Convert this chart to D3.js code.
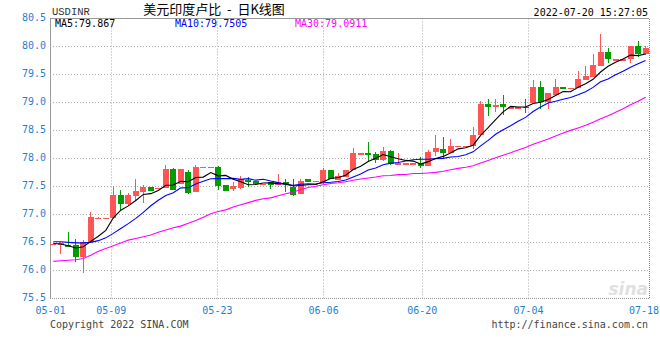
<!DOCTYPE html>
<html><head><meta charset="utf-8">
<script src="https://cdn.jsdelivr.net/npm/d3@7"></script>
<style>body{margin:0;background:#fff}svg{display:block}</style>
</head><body><svg id="c" width="660" height="360"></svg>
<script>
const dates = ["05-01","05-02","05-03","05-04","05-05","05-06","05-07","05-08","05-09","05-10",
"05-11","05-12","05-13","05-14","05-15","05-16","05-17","05-18","05-19","05-20",
"05-21","05-22","05-23","05-24","05-25","05-26","05-27","05-28","05-29","05-30",
"05-31","06-01","06-02","06-03","06-04","06-05","06-06","06-07","06-08","06-09",
"06-10","06-12","06-13","06-14","06-15","06-16","06-17","06-18","06-19","06-20",
"06-21","06-22","06-23","06-24","06-25","06-26","06-27","06-28","06-29","06-30",
"07-01","07-02","07-03","07-04","07-05","07-06","07-07","07-08","07-09","07-10",
"07-11","07-12","07-13","07-14","07-15","07-16","07-17","07-18","07-19","07-20"];
const open = [76.47,76.47,76.45,76.45,76.23,76.50,76.94,76.94,76.93,77.35,
77.18,77.33,77.40,77.48,77.47,77.47,77.81,77.55,77.75,77.40,
77.85,77.85,77.85,77.52,77.45,77.47,77.61,77.60,77.55,77.58,
77.52,77.58,77.49,77.36,77.63,77.60,77.57,77.79,77.61,77.66,
77.79,78.09,78.09,78.08,77.97,78.13,77.91,77.91,77.91,77.92,
77.86,78.12,78.17,78.10,78.22,78.22,78.22,78.42,78.97,78.91,
78.97,78.91,78.91,78.92,78.99,79.27,79.00,79.13,79.27,79.26,
79.26,79.40,79.46,79.66,79.90,79.77,79.77,79.77,80.01,79.86];
const high = [76.47,76.50,76.69,76.56,76.55,77.05,76.96,76.94,77.51,77.44,
77.39,77.63,77.52,77.48,77.47,77.88,77.82,77.81,77.79,77.88,
77.85,77.85,77.86,77.52,77.58,77.69,77.66,77.60,77.55,77.58,
77.72,77.63,77.63,77.64,77.63,77.60,77.83,77.79,77.74,77.79,
78.19,78.09,78.30,78.12,78.21,78.15,78.09,77.91,77.91,78.03,
78.15,78.41,78.39,78.35,78.22,78.22,78.57,79.03,79.06,79.07,
79.13,78.91,78.91,79.06,79.40,79.39,79.16,79.42,79.27,79.26,
79.56,79.65,79.86,80.22,79.97,79.77,79.77,80.01,80.09,80.00];
const low = [76.47,76.29,76.42,76.15,75.96,76.49,76.92,76.94,76.92,77.08,
77.17,77.23,77.21,77.42,77.47,77.47,77.43,77.55,77.36,77.40,
77.85,77.85,77.43,77.42,77.42,77.46,77.49,77.54,77.55,77.45,
77.52,77.40,77.33,77.36,77.58,77.60,77.55,77.63,77.61,77.66,
77.79,78.09,77.94,77.91,77.96,77.88,77.91,77.91,77.91,77.82,
77.86,78.05,78.00,78.10,78.22,78.22,78.16,78.42,78.76,78.83,
78.77,78.91,78.91,78.81,78.99,78.88,78.88,79.13,79.27,79.26,
79.26,79.40,79.46,79.66,79.70,79.77,79.77,79.70,79.82,79.85];
const close = [76.47,76.48,76.42,76.23,76.50,76.96,76.94,76.94,77.35,77.18,
77.35,77.42,77.48,77.42,77.47,77.81,77.44,77.81,77.38,77.85,
77.85,77.85,77.51,77.42,77.51,77.63,77.57,77.54,77.55,77.52,
77.57,77.54,77.35,77.60,77.58,77.60,77.79,77.63,77.69,77.79,
78.10,78.09,78.06,77.97,78.13,77.90,77.91,77.91,77.91,77.86,
78.12,78.19,78.10,78.22,78.22,78.22,78.42,78.97,78.91,78.95,
78.91,78.91,78.91,78.91,79.27,79.01,79.16,79.27,79.26,79.26,
79.41,79.47,79.67,79.91,79.77,79.77,79.77,80.01,79.86,79.98];
const ma5 = [76.48,76.47,76.44,76.40,76.420,76.518,76.610,76.714,76.938,77.074,
77.152,77.248,77.356,77.370,77.428,77.520,77.524,77.590,77.582,77.658,
77.666,77.748,77.688,77.696,77.628,77.584,77.528,77.534,77.560,77.562,
77.550,77.544,77.506,77.516,77.528,77.534,77.584,77.640,77.658,77.700,
77.800,77.860,77.946,78.002,78.070,78.030,77.994,77.964,77.952,77.898,
77.942,77.998,78.036,78.098,78.170,78.190,78.236,78.410,78.548,78.694,
78.832,78.930,78.918,78.918,78.982,79.002,79.052,79.124,79.194,79.192,
79.272,79.334,79.414,79.544,79.646,79.718,79.778,79.846,79.836,79.867];
const ma10 = [76.51,76.51,76.50,76.49,76.49,76.50,76.53,76.58,76.66,76.747,
76.835,76.929,77.035,77.154,77.251,77.336,77.386,77.473,77.476,77.543,
77.593,77.636,77.639,77.639,77.643,77.625,77.638,77.611,77.628,77.595,
77.567,77.536,77.520,77.538,77.545,77.542,77.564,77.573,77.587,77.614,
77.667,77.722,77.793,77.830,77.885,77.915,77.927,77.955,77.977,77.984,
77.986,77.996,78.000,78.025,78.034,78.066,78.117,78.223,78.323,78.432,
78.511,78.583,78.664,78.733,78.838,78.917,78.991,79.021,79.056,79.087,
79.137,79.193,79.269,79.369,79.419,79.495,79.556,79.630,79.690,79.7505];
const ma30 = [76.16,76.17,76.18,76.19,76.21,76.27,76.34,76.39,76.44,76.49,
76.54,76.57,76.60,76.63,76.68,76.72,76.76,76.79,76.84,76.89,
76.95,77.01,77.05,77.08,77.13,77.17,77.21,77.25,77.28,77.295,
77.332,77.367,77.398,77.444,77.480,77.501,77.529,77.552,77.564,77.584,
77.609,77.631,77.651,77.669,77.691,77.694,77.710,77.713,77.731,77.731,
77.740,77.751,77.771,77.798,77.821,77.841,77.869,77.917,77.962,78.010,
78.055,78.100,78.152,78.196,78.252,78.299,78.345,78.400,78.452,78.501,
78.545,78.591,78.644,78.709,78.764,78.826,78.888,78.958,79.023,79.0911];
const yTicks = [75.5,76.0,76.5,77.0,77.5,78.0,78.5,79.0,79.5,80.0,80.5];
const xTicks = ["05-01","05-09","05-23","06-06","06-20","07-04","07-18"];
const symbol = "USDINR";
const title = "美元印度卢比  -  日K线图";
const stamp = "2022-07-20 15:27:05";

const UP = "#ff5555", DOWN = "#009c00", GRID = "#aaaaaa", LAB = "#1f7fd0";
const MONO = "'DejaVu Sans Mono', 'Liberation Mono', monospace";
const L = 50, R = 649.3, T = 18.5, B = 298.3;

const svg = d3.select("#c");
const y = d3.scaleLinear().domain([75.5, 80.5]).range([B, T]);
const xb = d3.scaleBand().domain(dates).range([49.6, R]).paddingInner(0.2).paddingOuter(0.1);
const xp = d3.scalePoint().domain(dates).range([L, R]);
const cx = d => xb(d) + xb.bandwidth() / 2;

// horizontal grid
svg.append("g").selectAll("line").data(yTicks.filter(v => v > 75.5 && v < 80.5)).join("line")
  .attr("x1", L).attr("x2", R).attr("y1", d => Math.round(y(d)) + 0.5).attr("y2", d => Math.round(y(d)) + 0.5)
  .attr("stroke", GRID).attr("stroke-dasharray", "1,2");
// vertical grid
svg.append("g").selectAll("line").data(xTicks.slice(1, -1)).join("line")
  .attr("x1", d => Math.round(xp(d)) + 0.5).attr("x2", d => Math.round(xp(d)) + 0.5)
  .attr("y1", T).attr("y2", B)
  .attr("stroke", GRID).attr("stroke-dasharray", "1,2");

// frame
const fr = svg.append("g").attr("stroke", "#999").attr("shape-rendering", "crispEdges");
fr.append("line").attr("x1", L).attr("x2", R).attr("y1", T).attr("y2", T);
fr.append("line").attr("x1", L + 0.5).attr("x2", L + 0.5).attr("y1", T).attr("y2", B + 0.5);
fr.append("line").attr("x1", L).attr("x2", R).attr("y1", B + 0.5).attr("y2", B + 0.5).attr("stroke-dasharray", "1,1");
fr.append("line").attr("x1", R).attr("x2", R).attr("y1", T).attr("y2", B).attr("stroke", "#888").attr("stroke-dasharray", "1,1");

// watermark
svg.append("text").attr("x", 648).attr("y", 295).attr("text-anchor", "end")
  .attr("font-family", "'DejaVu Sans', sans-serif").attr("font-size", 17).attr("font-weight", "bold")
  .attr("font-style", "italic").attr("fill", "#e0e0e0").text("sina");

// candles
const idx = d3.range(dates.length);
const cg = svg.append("g").attr("shape-rendering", "crispEdges");
cg.selectAll("line").data(idx).join("line")
  .attr("x1", i => Math.floor(cx(dates[i])) + 0.5).attr("x2", i => Math.floor(cx(dates[i])) + 0.5)
  .attr("y1", i => y(high[i])).attr("y2", i => y(low[i]))
  .attr("stroke", i => close[i] >= open[i] ? UP : DOWN);
cg.selectAll("rect").data(idx).join("rect")
  .attr("x", i => xb(dates[i])).attr("width", xb.bandwidth())
  .attr("y", i => y(Math.max(open[i], close[i])))
  .attr("height", i => Math.max(1.2, Math.abs(y(open[i]) - y(close[i]))))
  .attr("fill", i => close[i] >= open[i] ? UP : DOWN);

// MA lines
const line = arr => d3.line().x((d, i) => cx(dates[i])).y(d => y(d))(arr);
[[ma30, "#ff00ff"], [ma10, "#0000ff"], [ma5, "#000000"]].forEach(([a, c]) => {
  svg.append("path").attr("d", line(a)).attr("fill", "none").attr("stroke", c).attr("stroke-width", 1.1);
});

// y axis labels
const ya = svg.append("g").attr("transform", `translate(46,-1.5)`)
  .call(d3.axisLeft(y).tickValues(yTicks).tickFormat(d3.format(".1f")).tickSize(0).tickPadding(0));
ya.select(".domain").remove();
ya.selectAll("text").attr("fill", LAB).attr("font-family", MONO).attr("font-size", 10);

// x axis labels
const xa = svg.append("g").attr("transform", `translate(0,${B})`)
  .call(d3.axisBottom(xp).tickValues(xTicks).tickSize(0).tickPadding(9));
xa.select(".domain").remove();
xa.selectAll("text").attr("fill", LAB).attr("font-family", MONO).attr("font-size", 10);
xa.selectAll(".tick").filter(d => d === xTicks[xTicks.length - 1])
  .attr("transform", `translate(659,0)`).select("text").attr("text-anchor", "end");

// header
svg.append("text").attr("x", 52).attr("y", 15).attr("font-family", "'Liberation Mono', monospace")
  .attr("font-size", 10.5).attr("fill", "#333").text(symbol);
svg.append("text").attr("x", 214).attr("y", 14).attr("text-anchor", "middle").style("white-space", "pre")
  .attr("font-family", "'Noto Sans CJK SC', sans-serif").attr("font-size", 13).attr("fill", "#000").text(title);
svg.append("text").attr("x", 648).attr("y", 15.5).attr("text-anchor", "end")
  .attr("font-family", MONO).attr("font-size", 10).attr("fill", "#000").text(stamp);

// legend
const n = dates.length - 1;
[["MA5:" + ma5[n], "#000", 55], ["MA10:" + ma10[n], "#0000ff", 175], ["MA30:" + ma30[n], "#ff00ff", 295]]
  .forEach(([t, c, x]) => svg.append("text").attr("x", x).attr("y", 27).attr("font-family", MONO)
    .attr("font-size", 10).attr("fill", c).text(t));

// footer
svg.append("text").attr("x", 50).attr("y", 328).attr("font-family", MONO).attr("font-size", 10)
  .attr("fill", "#444").text("Copyright 2022 SINA.COM");
svg.append("text").attr("x", 648).attr("y", 328).attr("text-anchor", "end").attr("font-family", MONO)
  .attr("font-size", 10).attr("fill", "#444").text("http://finance.sina.com.cn");
</script></body></html>
